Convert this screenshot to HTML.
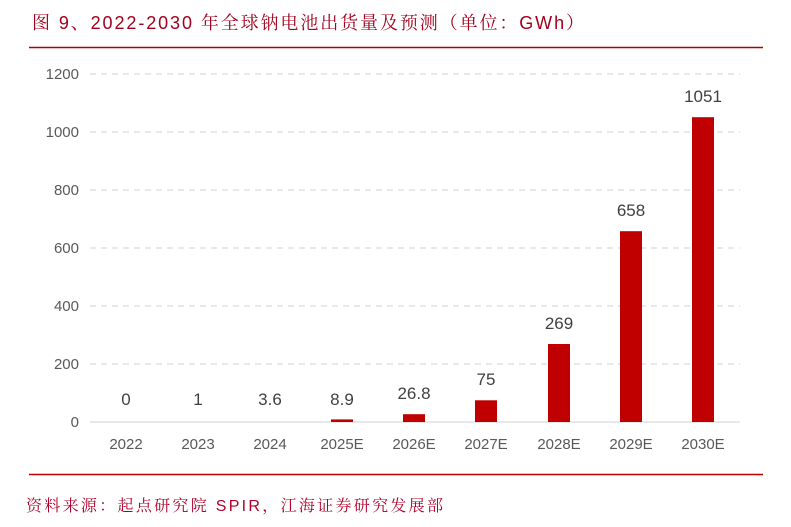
<!DOCTYPE html>
<html><head><meta charset="utf-8"><style>
body{margin:0;background:#fff;}
svg{display:block;}
</style></head><body>
<svg width="791" height="527" xmlns="http://www.w3.org/2000/svg">
<text x="32" y="29" font-family="Liberation Sans, Noto Serif CJK SC, serif" font-size="18" fill="#a3001e" textLength="552" lengthAdjust="spacing">图 9、2022-2030 年全球钠电池出货量及预测（单位：GWh）</text>
<line x1="29" y1="47.5" x2="763" y2="47.5" stroke="#b00000" stroke-width="1.5"/>
<g stroke="#d9d9d9" stroke-width="1.3" stroke-dasharray="6,5">
<line x1="90" y1="74" x2="740" y2="74"/>
<line x1="90" y1="132" x2="740" y2="132"/>
<line x1="90" y1="190" x2="740" y2="190"/>
<line x1="90" y1="248" x2="740" y2="248"/>
<line x1="90" y1="306" x2="740" y2="306"/>
<line x1="90" y1="364" x2="740" y2="364"/>
</g>
<line x1="90" y1="422" x2="740" y2="422" stroke="#d9d9d9" stroke-width="1.3"/>
<g font-family="Liberation Sans, sans-serif" font-size="15" fill="#595959" text-anchor="end">
<text x="79" y="79">1200</text><text x="79" y="137">1000</text><text x="79" y="195">800</text>
<text x="79" y="253">600</text><text x="79" y="311">400</text><text x="79" y="369">200</text><text x="79" y="427">0</text>
</g>
<g fill="#c00000">
<rect x="331" y="419.4" width="22" height="2.6"/>
<rect x="403" y="414.2" width="22" height="7.8"/>
<rect x="475" y="400.3" width="22" height="21.7"/>
<rect x="548" y="344" width="22" height="78"/>
<rect x="620" y="231.2" width="22" height="190.8"/>
<rect x="692" y="117.2" width="22" height="304.8"/>
</g>
<g font-family="Liberation Sans, sans-serif" font-size="15" fill="#595959" text-anchor="middle">
<text x="126" y="449">2022</text><text x="198" y="449">2023</text><text x="270" y="449">2024</text>
<text x="342" y="449">2025E</text><text x="414" y="449">2026E</text><text x="486" y="449">2027E</text>
<text x="559" y="449">2028E</text><text x="631" y="449">2029E</text><text x="703" y="449">2030E</text>
</g>
<g font-family="Liberation Sans, sans-serif" font-size="17" fill="#404040" text-anchor="middle">
<text x="126" y="405">0</text><text x="198" y="405">1</text><text x="270" y="405">3.6</text>
<text x="342" y="405">8.9</text><text x="414" y="399">26.8</text><text x="486" y="385">75</text>
<text x="559" y="329">269</text><text x="631" y="216">658</text><text x="703" y="102">1051</text>
</g>
<line x1="29" y1="474.5" x2="763" y2="474.5" stroke="#c00000" stroke-width="1.5"/>
<text x="26" y="511" font-family="Liberation Sans, Noto Serif CJK SC, serif" font-size="16" fill="#b0002a" textLength="417" lengthAdjust="spacing">资料来源：起点研究院 SPIR，江海证券研究发展部</text>
</svg>
</body></html>
